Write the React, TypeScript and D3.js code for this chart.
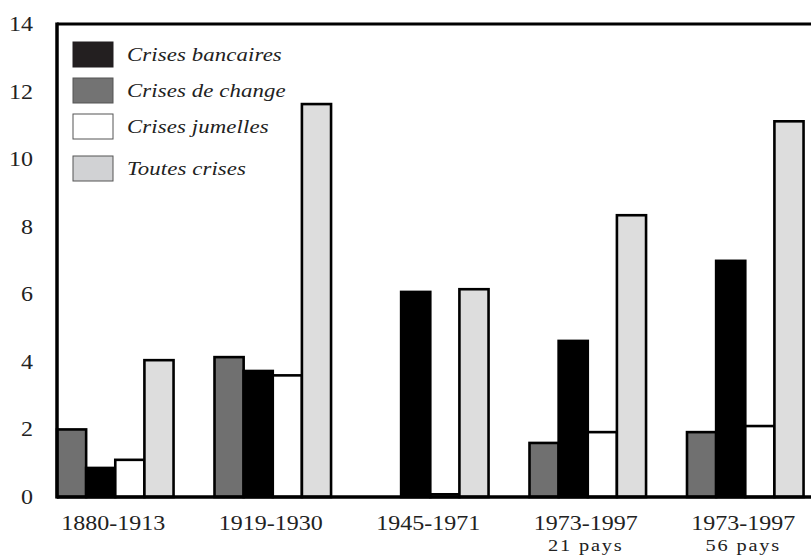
import { useEffect, useRef } from "react"
import * as d3 from "d3"

// periods on the x axis (second line = sample size)
const periods = ["1880-1913", "1919-1930", "1945-1971", "1973-1997 a", "1973-1997 b"]
const periodLabels = ["1880-1913", "1919-1930", "1945-1971", "1973-1997", "1973-1997"]
const periodSub = ["", "", "", "21 pays", "56 pays"]

// series, in bar order inside each group
const seriesKeys = ["change", "bancaires", "jumelles", "toutes"]
const change = [2.0, 4.14, 0, 1.6, 1.92]
const bancaires = [0.86, 3.73, 6.07, 4.62, 6.99]
const jumelles = [1.1, 3.6, 0.08, 1.92, 2.1]
const toutes = [4.05, 11.63, 6.15, 8.34, 11.12]

const yTicks = [0, 2, 4, 6, 8, 10, 12, 14]

// legend order differs from bar order
const legendKeys = ["bancaires", "change", "jumelles", "toutes"]
const legendLabels = ["Crises bancaires", "Crises de change", "Crises jumelles", "Toutes crises"]

const fills: Record<string, string> = {
  change: "#707070",
  bancaires: "#000000",
  jumelles: "#ffffff",
  toutes: "#dddddd",
}
const swatchFills: Record<string, string> = {
  change: "#737373",
  bancaires: "#231f20",
  jumelles: "#ffffff",
  toutes: "#d1d2d4",
}

const W = 811
const H = 557
const FONT = "'Liberation Serif', 'Times New Roman', serif"
const SX = 1.2 // the scan is stretched horizontally

export default function App() {
  const ref = useRef<SVGSVGElement>(null)

  useEffect(() => {
    const svg = d3.select(ref.current)
    svg.selectAll("*").remove()

    const left = 57
    const top = 24
    const bottom = 497
    const step = 157.5

    const values: Record<string, number[]> = { change, bancaires, jumelles, toutes }

    const y = d3.scaleLinear().domain([0, 14]).range([bottom, top])
    const x0 = d3
      .scaleBand()
      .domain(periods)
      .range([left, left + step * periods.length])
      .paddingInner(0.26)
      .paddingOuter(0.13)
      .align(0)
    const x1 = d3.scaleBand().domain(seriesKeys).range([0, x0.bandwidth()]).padding(0)

    svg.append("rect").attr("width", W).attr("height", H).attr("fill", "#fff")

    // bars
    const groups = svg
      .append("g")
      .selectAll("g")
      .data(periods)
      .join("g")
      .attr("transform", (d) => `translate(${x0(d)},0)`)

    groups
      .selectAll("rect")
      .data((_, i) => seriesKeys.map((k) => ({ key: k, value: values[k][i] })))
      .join("rect")
      .filter((d) => d.value > 0)
      .attr("x", (d) => x1(d.key)!)
      .attr("y", (d) => y(d.value))
      .attr("width", x1.bandwidth())
      .attr("height", (d) => bottom - y(d.value))
      .attr("fill", (d) => fills[d.key])
      .attr("stroke", "#000")
      .attr("stroke-width", 2.6)

    // frame: left axis, top line, bottom axis
    const frame = svg.append("g").attr("stroke", "#000").attr("fill", "none")
    frame.append("line").attr("x1", left).attr("x2", left).attr("y1", top - 1.5).attr("y2", bottom + 1.5).attr("stroke-width", 3.5)
    frame.append("line").attr("x1", left).attr("x2", W).attr("y1", top).attr("y2", top).attr("stroke-width", 3)
    frame.append("line").attr("x1", left).attr("x2", W).attr("y1", bottom).attr("y2", bottom).attr("stroke-width", 3.5)

    // y tick labels
    svg
      .append("g")
      .selectAll("text")
      .data(yTicks)
      .join("text")
      .attr("transform", (d) => `translate(33,${y(d) + 7}) scale(${SX},1)`)
      .attr("text-anchor", "end")
      .attr("font-family", FONT)
      .attr("font-size", 20)
      .attr("fill", "#222")
      .text((d) => d)

    // x labels
    const xl = svg
      .append("g")
      .selectAll("g")
      .data(periods)
      .join("g")
      .attr("transform", (d) => `translate(${x0(d)! + x0.bandwidth() / 2 - 2},0)`)
    xl.append("text")
      .attr("transform", `translate(0,530) scale(${SX},1)`)
      .attr("text-anchor", "middle")
      .attr("font-family", FONT)
      .attr("font-size", 20)
      .attr("fill", "#222")
      .text((_, i) => periodLabels[i])
    xl.append("text")
      .attr("transform", `translate(0,551) scale(${SX},1)`)
      .attr("text-anchor", "middle")
      .attr("font-family", FONT)
      .attr("font-size", 17)
      .attr("letter-spacing", 1.5)
      .attr("fill", "#222")
      .text((_, i) => periodSub[i])

    // legend
    const legendY = [42, 78, 114, 156]
    const lg = svg
      .append("g")
      .selectAll("g")
      .data(legendKeys)
      .join("g")
      .attr("transform", (_, i) => `translate(73,${legendY[i]})`)
    lg.append("rect")
      .attr("width", 40)
      .attr("height", 25)
      .attr("fill", (d) => swatchFills[d])
      .attr("stroke", (d) => (d === "bancaires" ? "#231f20" : "#555"))
      .attr("stroke-width", 1)
    lg.append("text")
      .attr("transform", `translate(54,19) scale(${SX},1)`)
      .attr("font-family", FONT)
      .attr("font-style", "italic")
      .attr("font-size", 19)
      .attr("letter-spacing", 0.1)
      .attr("fill", "#222")
      .text((_, i) => legendLabels[i])
  }, [])

  return (
    <svg
      ref={ref}
      width={W}
      height={H}
      style={{ position: "absolute", left: 0, top: 0, display: "block" }}
    />
  )
}
